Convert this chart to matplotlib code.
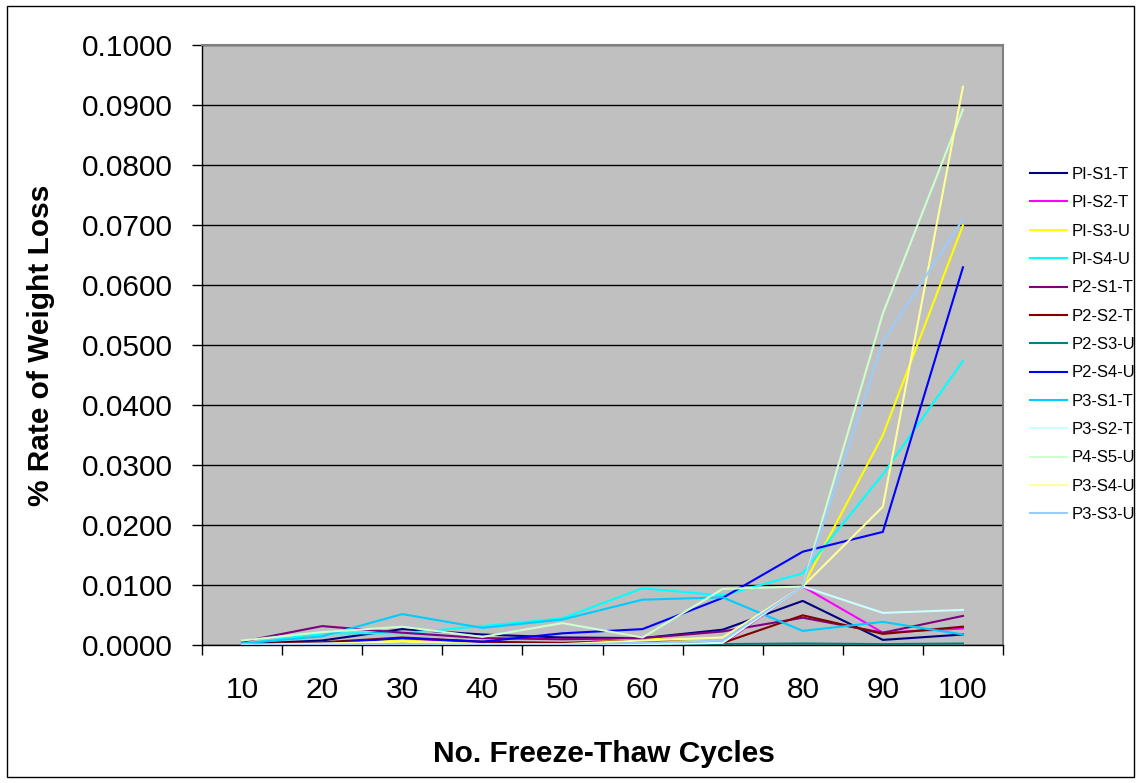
import matplotlib
matplotlib.use("Agg")
import matplotlib.pyplot as plt
from matplotlib.patches import Rectangle
from matplotlib.ticker import FixedLocator, FuncFormatter

plt.rcParams['font.family'] = ['Liberation Sans', 'DejaVu Sans']

cycles = ["10", "20", "30", "40", "50", "60", "70", "80", "90", "100"]

pi_s1_t = [0.0002, 0.0008, 0.0027, 0.0018, 0.0013, 0.0012, 0.0026, 0.0074, 0.0009, 0.0018]
pi_s2_t = [0.0001, 0.0003, 0.0010, 0.0003, 0.0002, 0.0013, 0.0002, 0.0098, 0.0021, 0.0028]
pi_s3_u = [0.0001, 0.0004, 0.0008, 0.0002, 0.0001, 0.0012, 0.0004, 0.0098, 0.0350, 0.0700]
pi_s4_u = [0.0002, 0.0020, 0.0020, 0.0032, 0.0045, 0.0095, 0.0083, 0.0120, 0.0285, 0.0474]
p2_s1_t = [0.0006, 0.0032, 0.0021, 0.0012, 0.0010, 0.0012, 0.0023, 0.0046, 0.0021, 0.0049]
p2_s2_t = [0.0002, 0.0005, 0.0013, 0.0006, 0.0004, 0.0008, 0.0004, 0.0050, 0.0019, 0.0031]
p2_s3_u = [0.0001, 0.0002, 0.0004, 0.0002, 0.0002, 0.0003, 0.0002, 0.0003, 0.0002, 0.0003]
p2_s4_u = [0.0001, 0.0003, 0.0012, 0.0006, 0.0020, 0.0027, 0.0079, 0.0156, 0.0189, 0.0630]
p3_s1_t = [0.0003, 0.0015, 0.0052, 0.0029, 0.0043, 0.0076, 0.0080, 0.0024, 0.0039, 0.0018]
p3_s2_t = [0.0000, 0.0001, 0.0001, 0.0001, 0.0001, 0.0002, 0.0004, 0.0098, 0.0054, 0.0059]
p4_s5_u = [0.0008, 0.0022, 0.0031, 0.0014, 0.0037, 0.0013, 0.0094, 0.0098, 0.0553, 0.0893]
p3_s4_u = [0.0001, 0.0003, 0.0006, 0.0002, 0.0002, 0.0008, 0.0013, 0.0098, 0.0231, 0.0931]
p3_s3_u = [0.0000, 0.0001, 0.0002, 0.0001, 0.0001, 0.0004, 0.0008, 0.0098, 0.0506, 0.0710]

series = [
    ("PI-S1-T", pi_s1_t, "#000080"),
    ("PI-S2-T", pi_s2_t, "#FF00FF"),
    ("PI-S3-U", pi_s3_u, "#FFFF00"),
    ("PI-S4-U", pi_s4_u, "#00FFFF"),
    ("P2-S1-T", p2_s1_t, "#800080"),
    ("P2-S2-T", p2_s2_t, "#800000"),
    ("P2-S3-U", p2_s3_u, "#008080"),
    ("P2-S4-U", p2_s4_u, "#0000FF"),
    ("P3-S1-T", p3_s1_t, "#00CCFF"),
    ("P3-S2-T", p3_s2_t, "#CCFFFF"),
    ("P4-S5-U", p4_s5_u, "#CCFFCC"),
    ("P3-S4-U", p3_s4_u, "#FFFF99"),
    ("P3-S3-U", p3_s3_u, "#99CCFF"),
]

fig = plt.figure(figsize=(11.41, 7.83), dpi=100)
ax = fig.add_axes([202 / 1141, 1 - 645.3 / 783, 801 / 1141, 600 / 783])
ax.set_facecolor("#C0C0C0")

x = list(range(len(cycles)))
for name, vals, col in series:
    ax.plot(x, vals, color=col, lw=1.5, label=name, zorder=3)

ax.set_xlim(-0.5, len(cycles) - 0.5)
ax.set_ylim(0, 0.1)

# y axis
ax.yaxis.set_major_locator(FixedLocator([i * 0.01 for i in range(11)]))
ax.yaxis.set_major_formatter(FuncFormatter(lambda v, p: "%.4f" % v))
ax.grid(axis="y", color="black", lw=1, zorder=1)
ax.tick_params(axis="y", direction="out", length=7, width=1, labelsize=21.5, pad=14)

# x axis: ticks between categories, labels at centers
ax.xaxis.set_major_locator(FixedLocator([i - 0.5 for i in range(len(cycles) + 1)]))
ax.xaxis.set_major_formatter(FuncFormatter(lambda v, p: ""))
ax.xaxis.set_minor_locator(FixedLocator(x))
ax.set_xticklabels(cycles, minor=True)
ax.tick_params(axis="x", which="major", direction="out", length=7, width=1)
ax.tick_params(axis="x", which="minor", length=0, labelsize=21.5, pad=22)

for side in ("left", "bottom"):
    ax.spines[side].set_color("black")
    ax.spines[side].set_linewidth(1)
for side in ("top", "right"):
    ax.spines[side].set_color("#808080")
    ax.spines[side].set_linewidth(1.5)

ax.set_xlabel("No. Freeze-Thaw Cycles", fontsize=21.5, fontweight="bold")
ax.set_ylabel("% Rate of Weight Loss", fontsize=21.5, fontweight="bold")
ax.xaxis.set_label_coords(0.502, -0.158)
ax.yaxis.set_label_coords(-0.1835, 0.5)

fig.legend(loc="upper left", bbox_to_anchor=(1030 / 1141, 1 - 167 / 783),
           frameon=False, fontsize=12, handlelength=2.2, handletextpad=0.3,
           labelspacing=0.8, borderpad=0, borderaxespad=0)

fig.patches.append(Rectangle((7 / 1141, 6 / 783), 1127 / 1141, 771 / 783,
                             transform=fig.transFigure, fill=False,
                             edgecolor="black", lw=1))

fig.savefig("out.png", dpi=100)
